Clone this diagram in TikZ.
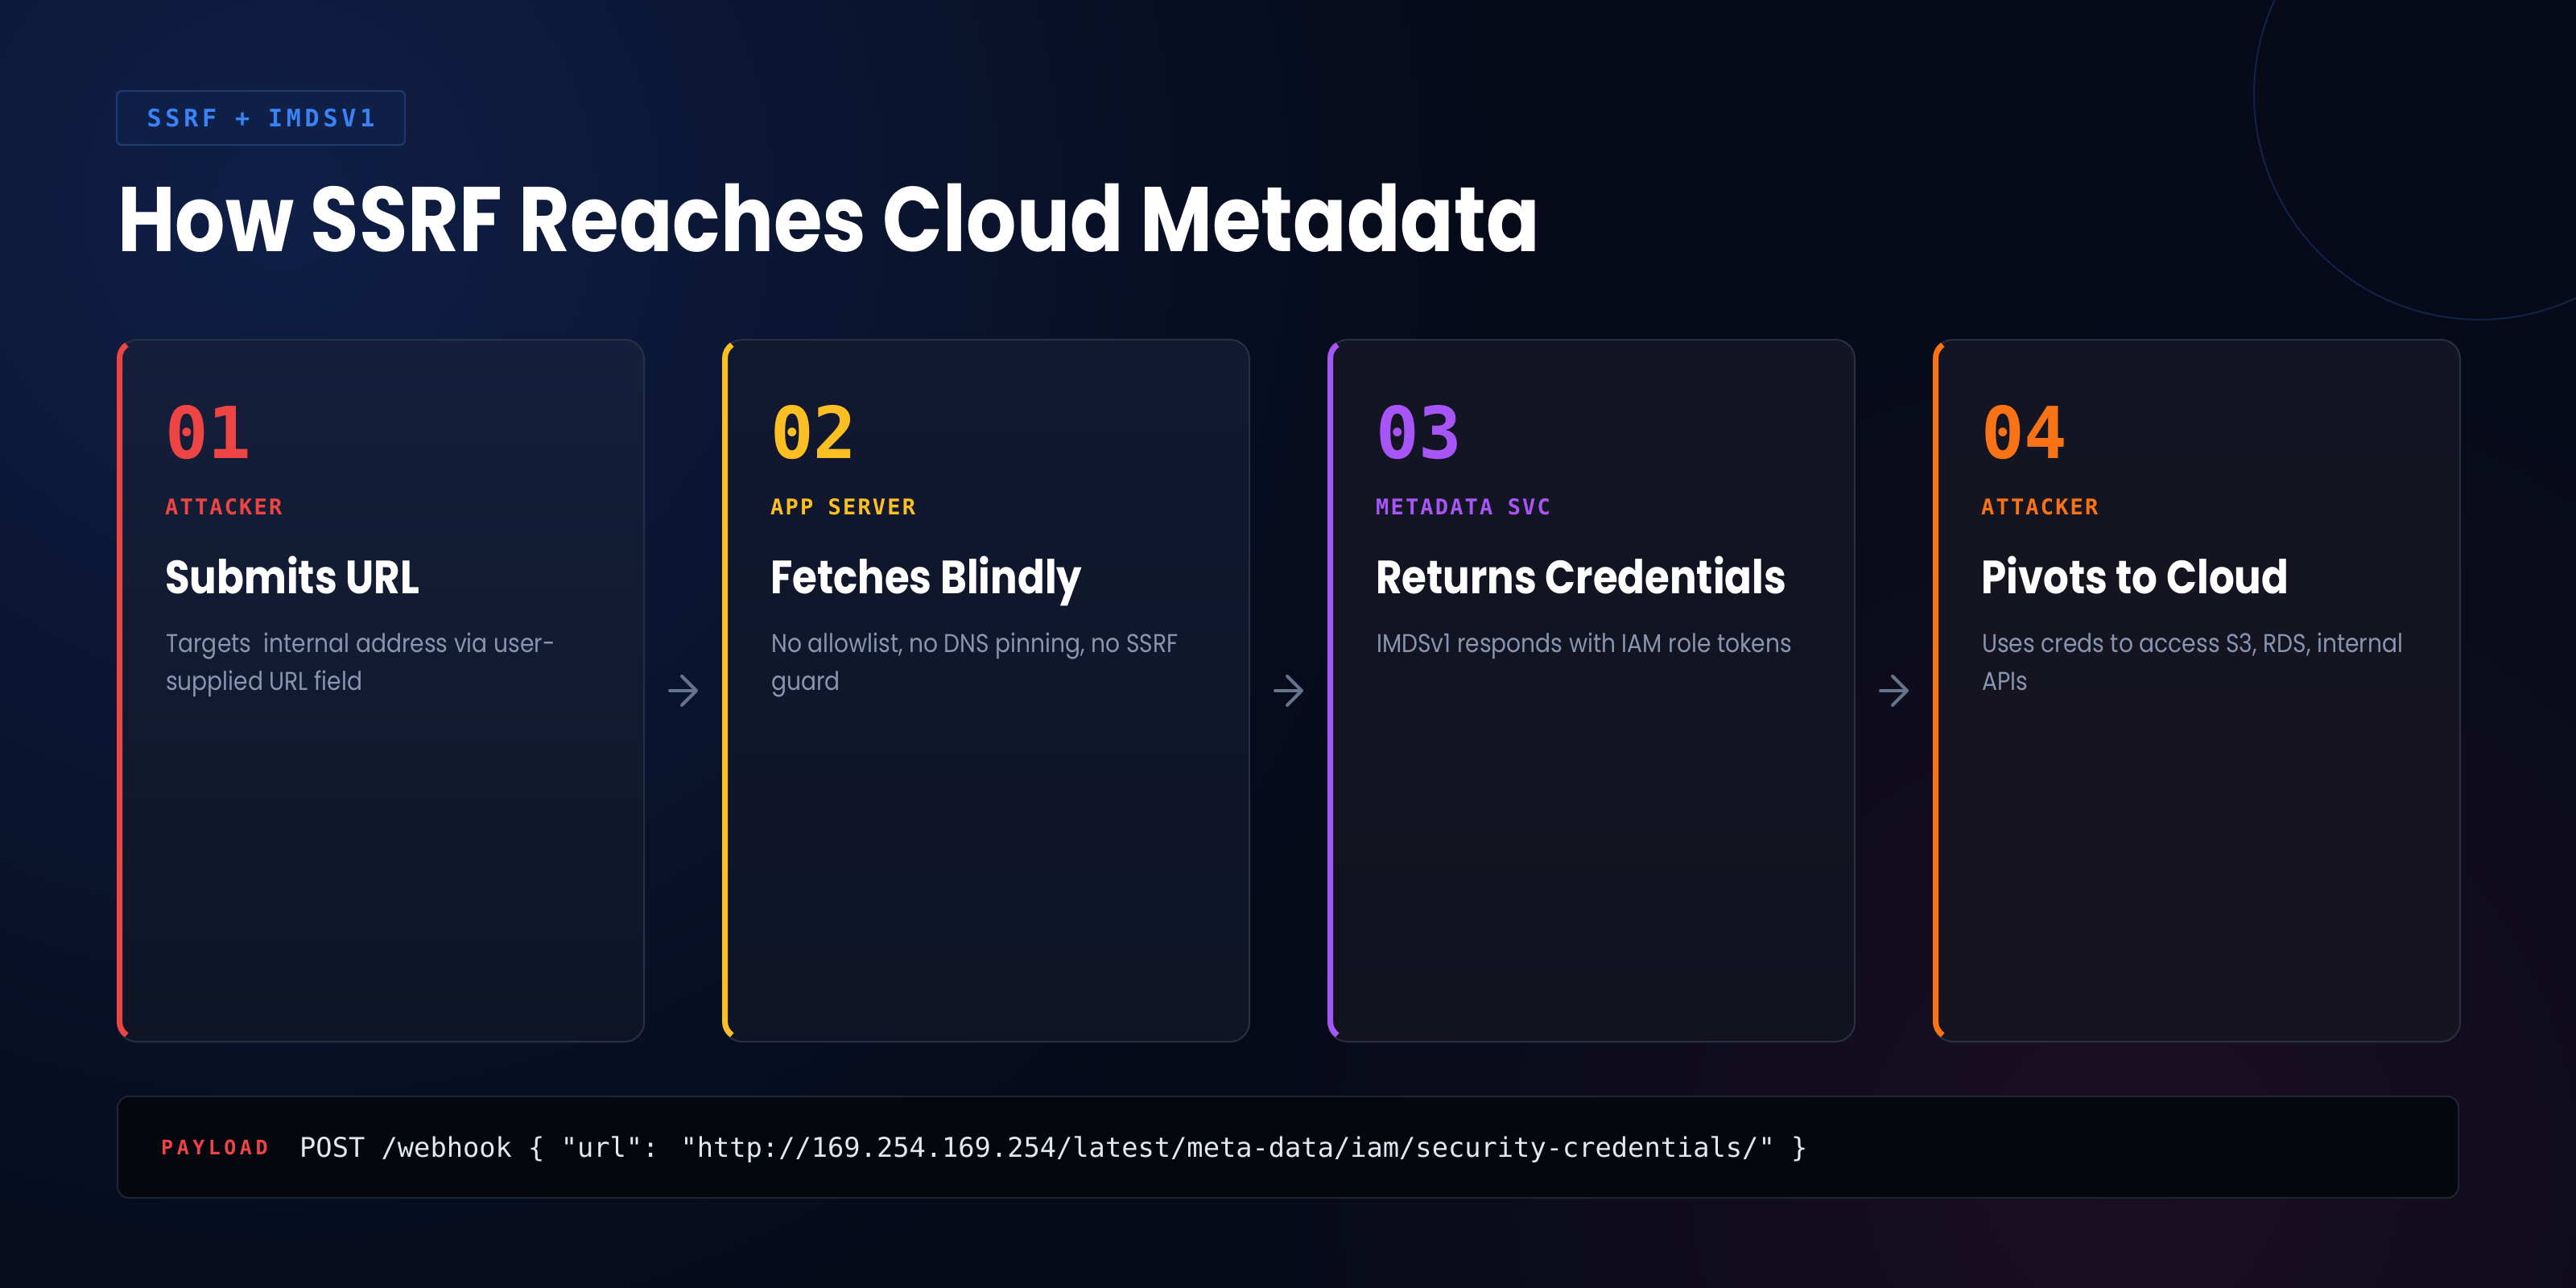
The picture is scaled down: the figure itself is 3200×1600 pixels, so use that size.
\documentclass[tikz,border=0pt]{standalone}
\usepackage{fontspec}
\usetikzlibrary{arrows.meta}
\newfontfamily\titlefont{Poppins}[FakeStretch=0.86]
\newfontfamily\bodyfont{Poppins}[FakeStretch=0.88]
\newfontfamily\monofont{DejaVu Sans Mono}
\newfontfamily\monorole{DejaVu Sans Mono}[LetterSpace=8]
\newfontfamily\monobadge{DejaVu Sans Mono}[LetterSpace=16]
\newfontfamily\monopay{DejaVu Sans Mono}[LetterSpace=18]
\definecolor{bg}{HTML}{060A19}
\definecolor{glowblue}{HTML}{0F1F46}
\definecolor{glowred}{HTML}{1A0F22}
\definecolor{cred}{HTML}{EF4444}
\definecolor{cyellow}{HTML}{FBBF24}
\definecolor{cpurple}{HTML}{A855F7}
\definecolor{corange}{HTML}{F97316}
\definecolor{badgefill}{HTML}{0E2047}
\definecolor{badgeline}{HTML}{1E3A70}
\definecolor{badgetext}{HTML}{3B82F6}
\definecolor{cardline}{HTML}{283044}
\definecolor{descgray}{HTML}{8795B0}
\definecolor{arrowgray}{HTML}{64748B}
\definecolor{codetext}{HTML}{E2E8F0}
\definecolor{payfill}{HTML}{05070F}
\definecolor{payline}{HTML}{1F2433}
\definecolor{ringcol}{HTML}{12234A}
\definecolor{caA}{HTML}{151F3B}\definecolor{cbA}{HTML}{0F1527}
\definecolor{caB}{HTML}{111831}\definecolor{cbB}{HTML}{0F1426}
\definecolor{caC}{HTML}{131524}\definecolor{cbC}{HTML}{12131F}
\definecolor{caD}{HTML}{141522}\definecolor{cbD}{HTML}{15141F}
\tikzset{
  card/.style={draw=cardline, line width=2, rounded corners=24, minimum width=654, minimum height=872, inner sep=0},
  accentbar/.style={line width=7},
  numtext/.style={anchor=base west, inner sep=0, font=\monofont\bfseries\fontsize{89}{100}\selectfont},
  roletext/.style={anchor=base west, inner sep=0, font=\monorole\bfseries\fontsize{27}{30}\selectfont},
  headtext/.style={anchor=base west, inner sep=0, text=white, font=\titlefont\bfseries\fontsize{58}{64}\selectfont},
  desctext/.style={anchor=base west, inner sep=0, text=descgray, align=left, font=\bodyfont\fontsize{32}{47}\selectfont},
  flow/.style={draw=arrowgray, line width=4, line cap=round, -{Straight Barb[length=18pt, width=36pt, line width=4pt, round]}},
}
\begin{document}
\begin{tikzpicture}[x=1pt,y=-1pt]
\useasboundingbox (0,0) rectangle (3200,1600);
\begin{scope}
\clip (0,0) rectangle (3200,1600);
\fill[bg] (0,0) rectangle (3200,1600);
\shade[inner color=glowblue, outer color=bg] (350,250) circle (1500);
\shade[inner color=glowred, outer color=bg] (2650,1450) circle (1100);
\draw[ringcol, line width=2] (3080,117) circle (280);
\end{scope}

% badge and title
\node[draw=badgeline, fill=badgefill, line width=2, rounded corners=6, minimum width=358, minimum height=67, inner sep=0, anchor=north west, text=badgetext, font=\monobadge\bfseries\fontsize{30}{32}\selectfont] (badge) at (144,112) {SSRF + IMDSV1};
\node[anchor=base west, inner sep=0, text=white, font=\titlefont\bfseries\fontsize{114}{130}\selectfont] (title) at (146,312) {How SSRF Reaches Cloud Metadata};

% cards
\foreach \n/\L/\col/\ta/\tb/\num/\role/\head/\dy/\desc in {
  1/145/cred/caA/cbA/01/ATTACKER/Submits URL/47/{Targets\ \ internal address via user-\\supplied URL field},
  2/897/cyellow/caB/cbB/02/APP SERVER/Fetches Blindly/47/{No allowlist, no DNS pinning, no SSRF\\guard},
  3/1649/cpurple/caC/cbC/03/METADATA SVC/Returns Credentials/0/{IMDSv1 responds with IAM role tokens},
  4/2401/corange/caD/cbD/04/ATTACKER/Pivots to Cloud/47/{Uses creds to access S3, RDS, internal\\APIs}}{
  \node[card, top color=\ta, bottom color=\tb, anchor=north west] (c\n) at (\L,421) {};
  \pgfmathsetmacro\cx{\L+24}
  \draw[accentbar, \col] ([shift={(235:20.5)}]\cx,445) arc[start angle=235, end angle=180, radius=20.5] -- (\cx-20.5,1269) arc[start angle=180, end angle=125, radius=20.5];
  \node[numtext, text=\col] (n\n) at (\L+60,569) {\num};
  \node[roletext, text=\col] (r\n) at (\L+60,639) {\role};
  \node[headtext] (h\n) at (\L+60,737) {\head};
  \node[desctext] (d\n) at (\L+61,810+\dy) {\desc};
}

% arrows
\draw[flow] ([xshift=31]c1.east) -- ([xshift=-30]c2.west);
\draw[flow] ([xshift=31]c2.east) -- ([xshift=-30]c3.west);
\draw[flow] ([xshift=31]c3.east) -- ([xshift=-30]c4.west);

% payload
\node[draw=payline, fill=payfill, line width=2, rounded corners=14, minimum width=2908, minimum height=126, inner sep=0, anchor=north west] (pay) at (145,1361) {};
\node[anchor=base west, inner sep=0, text=cred, font=\monopay\bfseries\fontsize{25}{28}\selectfont] (plabel) at (200,1434) {PAYLOAD};
\node[anchor=base west, inner sep=0, text=codetext, font=\monofont\fontsize{33.7}{40}\selectfont] (code) at (372,1437) {POST /webhook \{ "url": "http://169.254.169.254/latest/meta-data/iam/security-credentials/" \}};
\end{tikzpicture}
\end{document}
